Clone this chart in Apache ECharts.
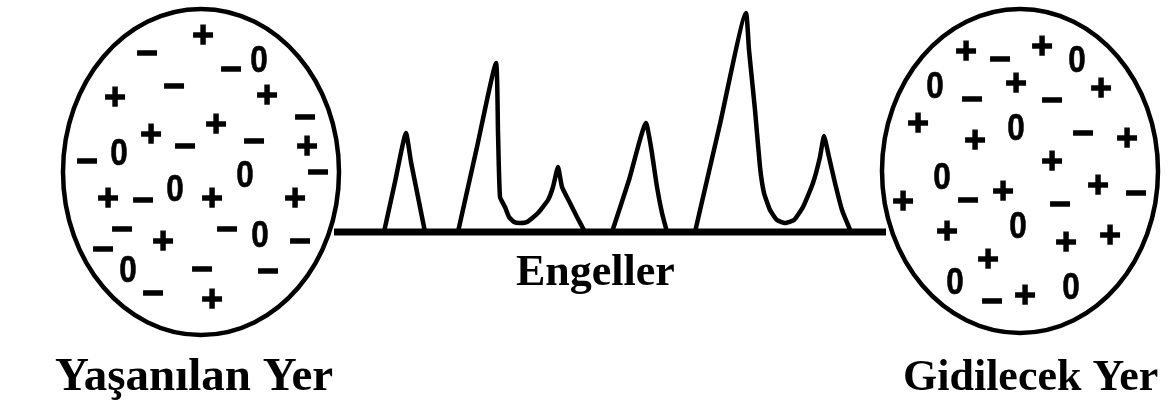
<!DOCTYPE html>
<html>
<head>
<meta charset="utf-8">
<script src="https://cdn.jsdelivr.net/npm/echarts@6/dist/echarts.min.js"></script>
<style>
html,body{margin:0;padding:0;background:#fff;}
#c{width:1175px;height:414px;}
</style>
</head>
<body>
<div id="c"></div>
<script>
// ---- data (x along the route, h = height above the route line) ----
const routeX = [334, 886];

const obstacle1X = [384, 395, 406, 411, 416, 421, 425];
const obstacle1H = [0, 50, 99, 70, 45, 20, 0];

const obstacle2X = [458, 477, 496, 498, 500, 505, 509, 514, 520, 527, 538, 548, 553, 558, 562, 570, 577, 585];
const obstacle2H = [0, 85, 169, 100, 35, 25, 15, 10, 9, 10, 19, 32, 45, 65, 45, 29, 15, 0];

const obstacle3X = [612, 629, 646, 651, 657, 662, 667];
const obstacle3H = [0, 52, 109, 85, 45, 19, 0];

const obstacle4X = [695, 720, 746, 749, 755, 760, 764, 770, 777, 785, 794, 803, 813, 820, 824, 829, 835, 842, 851];
const obstacle4H = [0, 108, 219, 182, 122, 65, 39, 22, 12, 9, 12, 25, 49, 75, 96, 75, 49, 22, 0];

// places: [centerX, centerH, radiusX, radiusH]
const originPlace = [201, 60, 138, 163];
const destinationPlace = [1020, 61, 138, 162];

const originSigns = ['+','−','−','0','+','−','+','−','+','+','−','−','+','−','0','−','0','+','−','0','+','+','−','+','−','0','−','−','0','−','−','−','+'];
const originX = [203,147,231,259,115,174,267,305,216,151,185,254,307,87,119,318,245,108,143,175,212,295,122,163,227,260,300,103,128,202,268,153,212];
const originH = [195,177,161,170,133,144,135,113,106,96,84,89,84,69,77,58,55,32,30,41,32,32,1,-11,1,-5,-11,-19,-40,-39,-41,-63,-69];

const destSigns = ['+','−','+','0','0','−','+','−','+','+','+','0','−','+','+','0','−','+','+','−','+','−','+','0','+','+','+','0','−','+','0'];
const destX = [966,1000,1042,1077,935,972,1016,1052,1101,918,975,1016,1083,1127,1052,942,968,1003,1098,1136,903,1060,947,1018,1066,1110,988,955,992,1025,1071];
const destH = [179,171,184,170,144,131,147,130,142,107,90,102,97,92,69,53,30,39,45,37,29,26,-1,4,-12,-5,-29,-52,-71,-65,-57];

const labels = {
  obstacles: 'Engeller',
  origin: 'Yaşanılan Yer',
  destination: 'Gidilecek Yer'
};

// ---- build ----
function zip(xs, ys) { return xs.map((x, i) => [x, ys[i]]); }
function signs(xs, ys, ss) { return xs.map((x, i) => [x, ys[i], ss[i]]); }

const lineBase = {
  type: 'line', symbol: 'none', silent: true, animation: false, smooth: 0.15,
  lineStyle: { color: '#000', width: 4.5, join: 'round', cap: 'round' }
};

function signSeries(data) {
  return {
    type: 'custom', silent: true, animation: false, z: 5,
    data: data,
    renderItem: function (params, api) {
      const c = api.coord([api.value(0), api.value(1)]);
      const s = data[params.dataIndex][2];
      return {
        type: 'text', x: c[0], y: c[1],
        scaleX: s === '0' ? 0.85 : 1,
        style: {
          text: s, fill: '#000', stroke: '#000', lineWidth: s === '0' ? 0.6 : 1.4,
          font: 'bold 37px "Liberation Sans"', align: 'center', verticalAlign: 'middle'
        }
      };
    }
  };
}

function placeSeries(place) {
  return {
    type: 'custom', silent: true, animation: false, z: 3,
    data: [place],
    renderItem: function (params, api) {
      const c = api.coord([api.value(0), api.value(1)]);
      const s = api.size([api.value(2), api.value(3)]);
      return {
        type: 'ellipse',
        shape: { cx: c[0], cy: c[1], rx: s[0], ry: s[1] },
        style: { fill: '#fff', stroke: '#000', lineWidth: 4.5 }
      };
    }
  };
}

const chart = echarts.init(document.getElementById('c'));
chart.setOption({
  backgroundColor: '#fff',
  animation: false,
  grid: { left: 0, right: 0, top: 0, bottom: 0 },
  xAxis: { type: 'value', min: 0, max: 1175, show: false },
  yAxis: { type: 'value', min: -182, max: 232, show: false },
  series: [
    { ...lineBase, smooth: false, data: zip(routeX, [0, 0]), lineStyle: { color: '#000', width: 7, cap: 'butt' }, z: 2 },
    { ...lineBase, data: zip(obstacle1X, obstacle1H), z: 2 },
    { ...lineBase, data: zip(obstacle2X, obstacle2H), z: 2 },
    { ...lineBase, data: zip(obstacle3X, obstacle3H), z: 2 },
    { ...lineBase, data: zip(obstacle4X, obstacle4H), z: 2 },
    placeSeries(originPlace),
    placeSeries(destinationPlace),
    signSeries(signs(originX, originH, originSigns)),
    signSeries(signs(destX, destH, destSigns))
  ],
  graphic: [
    { type: 'text', left: 516, top: 252, style: { text: labels.obstacles, font: 'bold 44px "Liberation Serif"', fill: '#000' } },
    { type: 'text', left: 55, top: 354, style: { text: labels.origin, font: 'bold 47px "Liberation Serif"', fill: '#000' } },
    { type: 'text', left: 903, top: 357, style: { text: labels.destination, font: 'bold 44px "Liberation Serif"', fill: '#000' } }
  ]
});
</script>
</body>
</html>
